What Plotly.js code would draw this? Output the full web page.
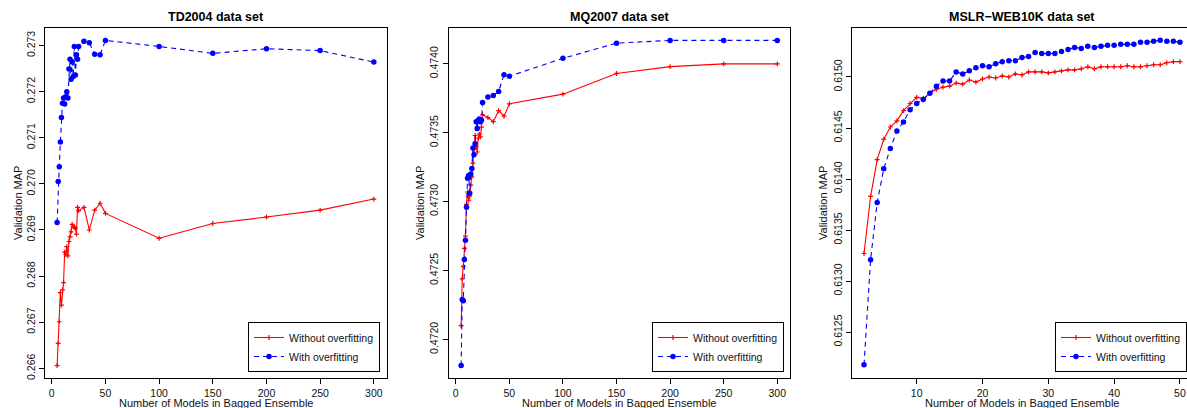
<!DOCTYPE html>
<html>
<head>
<meta charset="utf-8">
<script src="https://cdn.plot.ly/plotly-3.0.1.min.js"></script>
<style>
html,body{margin:0;padding:0;overflow:hidden;background:#fff;}
#chart{width:1200px;height:408px;}
</style>
</head>
<body>
<div id="chart"></div>
<script>
// ---------- data ----------
const seriesNames = ["Without overfitting", "With overfitting"];
const panelTitles = ["TD2004 data set", "MQ2007 data set", "MSLR\u2212WEB10K data set"];
const xTitle = "Number of Models in Bagged Ensemble";
const yTitle = "Validation MAP";

const tdX = [5,6,7,8,9,10,11,12,13,14,15,16,17,18,19,20,21,22,23,24,25,30,35,40,45,50,100,150,200,250,300];
const tdWithout = [0.26606,0.26654,0.26701,0.26764,0.26737,0.26770,0.26786,0.26852,0.26847,0.26864,0.26844,0.26875,0.26885,0.26896,0.26912,0.26907,0.26906,0.26904,0.26891,0.26949,0.26942,0.26949,0.26900,0.26943,0.26958,0.26936,0.26882,0.26914,0.26928,0.26943,0.26967];
const tdWith = [0.26916,0.27005,0.27037,0.27091,0.27144,0.27175,0.27186,0.27173,0.27189,0.27200,0.27186,0.27249,0.27270,0.27227,0.27265,0.27233,0.27298,0.27236,0.27280,0.27270,0.27298,0.27309,0.27306,0.27281,0.27280,0.27311,0.27298,0.27283,0.27293,0.27289,0.27264];

const mqX = [5,6,7,8,9,10,11,12,13,14,15,16,17,18,19,20,21,22,23,24,25,30,35,40,45,50,100,150,200,250,300];
const mqWithout = [0.47210,0.47244,0.47253,0.47266,0.47275,0.47298,0.47307,0.47301,0.47304,0.47312,0.47318,0.47328,0.47338,0.47348,0.47340,0.47336,0.47346,0.47349,0.47347,0.47354,0.47363,0.47361,0.47358,0.47366,0.47362,0.47371,0.47378,0.47393,0.47398,0.47400,0.47400];
const mqWith = [0.47181,0.47229,0.47228,0.47258,0.47272,0.47296,0.47317,0.47319,0.47306,0.47320,0.47324,0.47339,0.47334,0.47342,0.47358,0.47353,0.47359,0.47360,0.47358,0.47359,0.47372,0.47376,0.47377,0.47380,0.47392,0.47391,0.47404,0.47415,0.47417,0.47417,0.47417];

const mslrX = [2,3,4,5,6,7,8,9,10,11,12,13,14,15,16,17,18,19,20,21,22,23,24,25,26,27,28,29,30,31,32,33,34,35,36,37,38,39,40,41,42,43,44,45,46,47,48,49,50];
const mslrWithout = [0.61327,0.61383,0.61419,0.61439,0.61451,0.61457,0.61467,0.61474,0.61480,0.61479,0.61484,0.61488,0.61490,0.61491,0.61494,0.61493,0.61497,0.61495,0.61498,0.61500,0.61499,0.61501,0.61500,0.61503,0.61502,0.61505,0.61505,0.61505,0.61504,0.61505,0.61506,0.61507,0.61507,0.61508,0.61510,0.61508,0.61510,0.61510,0.61510,0.61510,0.61511,0.61510,0.61510,0.61511,0.61512,0.61512,0.61514,0.61515,0.61515];
const mslrWith = [0.61218,0.61321,0.61377,0.61410,0.61430,0.61447,0.61456,0.61468,0.61474,0.61478,0.61484,0.61491,0.61496,0.61496,0.61505,0.61503,0.61506,0.61509,0.61511,0.61510,0.61513,0.61515,0.61516,0.61516,0.61519,0.61520,0.61524,0.61523,0.61523,0.61523,0.61525,0.61527,0.61529,0.61528,0.61530,0.61529,0.61530,0.61531,0.61531,0.61532,0.61532,0.61532,0.61534,0.61534,0.61535,0.61536,0.61535,0.61535,0.61534];

const xTicks300 = [0,50,100,150,200,250,300];
const xTicks50 = [10,20,30,40,50];
const tdYTicks = [0.266,0.267,0.268,0.269,0.270,0.271,0.272,0.273];
const mqYTicks = [0.4720,0.4725,0.4730,0.4735,0.4740];
const mslrYTicks = [0.6125,0.6130,0.6135,0.6140,0.6145,0.6150];

// ---------- layout helpers ----------
const W = 1200, H = 408;
const FONT = '"Liberation Sans", Arial, Helvetica, sans-serif';
const plotTop = 28, plotBot = 378;
const panels = [
  {l:45, r:386.5, xr:[-6.3,311.8], yr:[0.26579,0.27338], xt:xTicks300, yt:tdYTicks, yf:'.3f', ylab:18, leg:314},
  {l:448.5, r:789.5, xr:[-6.8,311.4], yr:[0.47172,0.47426], xt:xTicks300, yt:mqYTicks, yf:'.4f', ylab:420, leg:718},
  {l:851.7, r:1192.6, xr:[0.13,51.92], yr:[0.61205,0.61548], xt:xTicks50, yt:mslrYTicks, yf:'.4f', ylab:823, leg:1121}
];
const data = [
  [tdX, tdWithout, tdWith],
  [mqX, mqWithout, mqWith],
  [mslrX, mslrWithout, mslrWith]
];

const traces = [];
const layout = {
  width: W, height: H,
  margin: {l:0, r:0, t:0, b:0, autoexpand:false},
  paper_bgcolor: '#fff', plot_bgcolor: '#fff',
  font: {family: FONT, size: 10.5, color: '#000'},
  showlegend: true,
  annotations: []
};

panels.forEach((p, i) => {
  const sfx = i === 0 ? '' : String(i + 1);
  const [xs, wo, wi] = data[i];
  const legName = 'legend' + sfx;
  traces.push({
    x: xs, y: wo, type: 'scatter', mode: 'lines+markers', name: seriesNames[0],
    xaxis: 'x' + sfx, yaxis: 'y' + sfx, legend: legName,
    line: {color: '#ff0000', width: 1.1},
    marker: {symbol: 'cross-thin', size: 3.5, color: '#ff0000', line: {color: '#ff0000', width: 1.2}}
  });
  traces.push({
    x: xs, y: wi, type: 'scatter', mode: 'lines+markers', name: seriesNames[1],
    xaxis: 'x' + sfx, yaxis: 'y' + sfx, legend: legName,
    line: {color: '#0000ff', width: 1.1, dash: '5px,4px'},
    marker: {symbol: 'circle', size: 5.5, color: '#0000ff'}
  });
  const common = {
    showline: true, mirror: true, linecolor: '#000', linewidth: 1,
    ticks: 'outside', ticklen: 5, tickwidth: 1, tickcolor: '#000',
    showgrid: false, zeroline: false, tickfont: {size: 10.5, color: '#111'},
    tickmode: 'array', fixedrange: true
  };
  layout['xaxis' + sfx] = Object.assign({}, common, {
    domain: [p.l / W, p.r / W], range: p.xr, tickvals: p.xt,
    anchor: 'y' + sfx
  });
  layout['yaxis' + sfx] = Object.assign({}, common, {
    domain: [1 - plotBot / H, 1 - plotTop / H], range: p.yr, tickvals: p.yt,
    tickformat: p.yf, tickangle: -90, anchor: 'x' + sfx
  });
  layout[legName] = {
    x: p.leg / W, y: 1 - 322 / H, xanchor: 'center', yanchor: 'top',
    xref: 'paper', yref: 'paper',
    bgcolor: '#fff', bordercolor: '#000', borderwidth: 1,
    font: {size: 10.5, color: '#111'}, itemwidth: 30, tracegroupgap: 0
  };
  const cx = (p.l + p.r) / 2 / W;
  layout.annotations.push({
    text: '<b>' + panelTitles[i] + '</b>', xref: 'paper', yref: 'paper',
    x: Math.min(cx, 1), y: 1 - 17 / H, xanchor: 'center', yanchor: 'middle',
    showarrow: false, font: {size: 12.5, color: '#000'}
  });
  layout.annotations.push({
    text: yTitle, xref: 'paper', yref: 'paper', textangle: -90,
    x: p.ylab / W, y: 1 - 203 / H, xanchor: 'center', yanchor: 'middle',
    showarrow: false, font: {size: 11, color: '#111'}
  });
  layout.annotations.push({
    text: xTitle, xref: 'paper', yref: 'paper',
    x: cx, y: 1 - 403 / H, xanchor: 'center', yanchor: 'middle',
    showarrow: false, font: {size: 11, color: '#111'}
  });
});

Plotly.newPlot('chart', traces, layout, {displayModeBar: false, staticPlot: true});
</script>
</body>
</html>
